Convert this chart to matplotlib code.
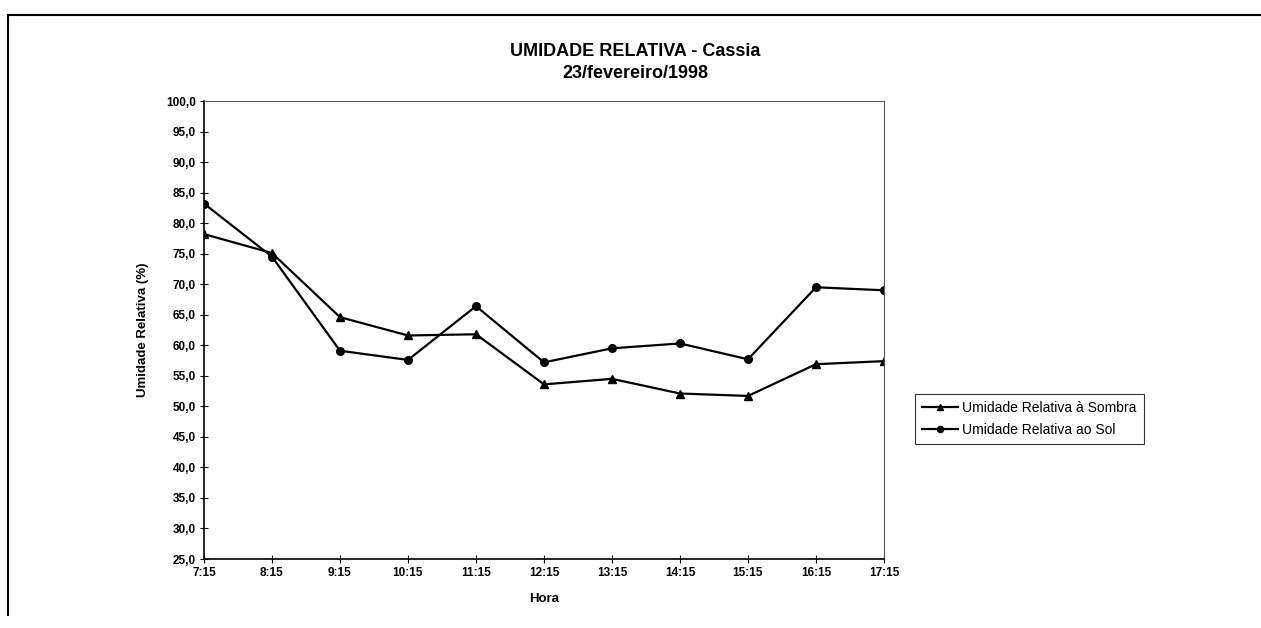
import matplotlib

matplotlib.use("Agg")
import matplotlib.pyplot as plt
from matplotlib.lines import Line2D
import numpy as np

plt.rcParams["font.family"] = ["Liberation Sans", "DejaVu Sans"]

horas = ["7:15", "8:15", "9:15", "10:15", "11:15", "12:15",
         "13:15", "14:15", "15:15", "16:15", "17:15"]
ur_sombra = [78.2, 75.1, 64.6, 61.6, 61.8, 53.6, 54.5, 52.1, 51.7, 56.9, 57.4]
ur_sol = [83.2, 74.5, 59.1, 57.6, 66.4, 57.2, 59.5, 60.3, 57.7, 69.5, 69.0]
y_ticks = np.arange(25, 100.1, 5)

fig = plt.figure(figsize=(12.61, 6.28), dpi=100)
ax = fig.add_axes([204 / 1261, 69 / 628, 680 / 1261, 458 / 628])

x = np.arange(len(horas))
ax.plot(x, ur_sombra, color="black", lw=1.6, marker="^", ms=6,
        label="Umidade Relativa à Sombra")
ax.plot(x, ur_sol, color="black", lw=1.6, marker="o", ms=5.5,
        label="Umidade Relativa ao Sol")

ax.set_xlim(0, len(horas) - 1)
ax.set_ylim(25, 100)
ax.set_xticks(x, horas)
ax.set_yticks(y_ticks, [f"{v:.1f}".replace(".", ",") for v in y_ticks])
ax.tick_params(direction="inout", length=6, width=0.8, labelsize=8.5, pad=3)
for lbl in ax.get_xticklabels() + ax.get_yticklabels():
    lbl.set_fontweight("bold")

for side in ["left", "bottom"]:
    ax.spines[side].set_linewidth(1.2)
for side in ["top", "right"]:
    ax.spines[side].set_linestyle((0, (1, 1)))
    ax.spines[side].set_color("#555555")
    ax.spines[side].set_linewidth(0.8)

ax.set_xlabel("Hora", fontsize=9.5, fontweight="bold", labelpad=10)
ax.set_ylabel("Umidade Relativa (%)", fontsize=9.5, fontweight="bold", labelpad=12)

fig.text(635 / 1261, 1 - 51 / 628, "UMIDADE RELATIVA - Cassia", ha="center",
         va="center", fontsize=13, fontweight="bold")
fig.text(635 / 1261, 1 - 73 / 628, "23/fevereiro/1998", ha="center",
         va="center", fontsize=13, fontweight="bold")

leg = ax.legend(loc="upper left", bbox_to_anchor=(915 / 1261, 1 - 394 / 628),
                bbox_transform=fig.transFigure, fancybox=False, frameon=True,
                edgecolor="black", fontsize=10, handlelength=2.6,
                handletextpad=0.3, borderpad=0.5, labelspacing=0.6,
                borderaxespad=0, markerscale=0.8)
leg.get_frame().set_linewidth(0.8)

# page frame
fig.add_artist(Line2D([8 / 1261, 1], [1 - 15 / 628, 1 - 15 / 628],
                      transform=fig.transFigure, color="black", lw=1.5))
fig.add_artist(Line2D([8 / 1261, 8 / 1261], [0.02, 1 - 15 / 628],
                      transform=fig.transFigure, color="black", lw=1.5))

fig.savefig("out.png", dpi=100)
